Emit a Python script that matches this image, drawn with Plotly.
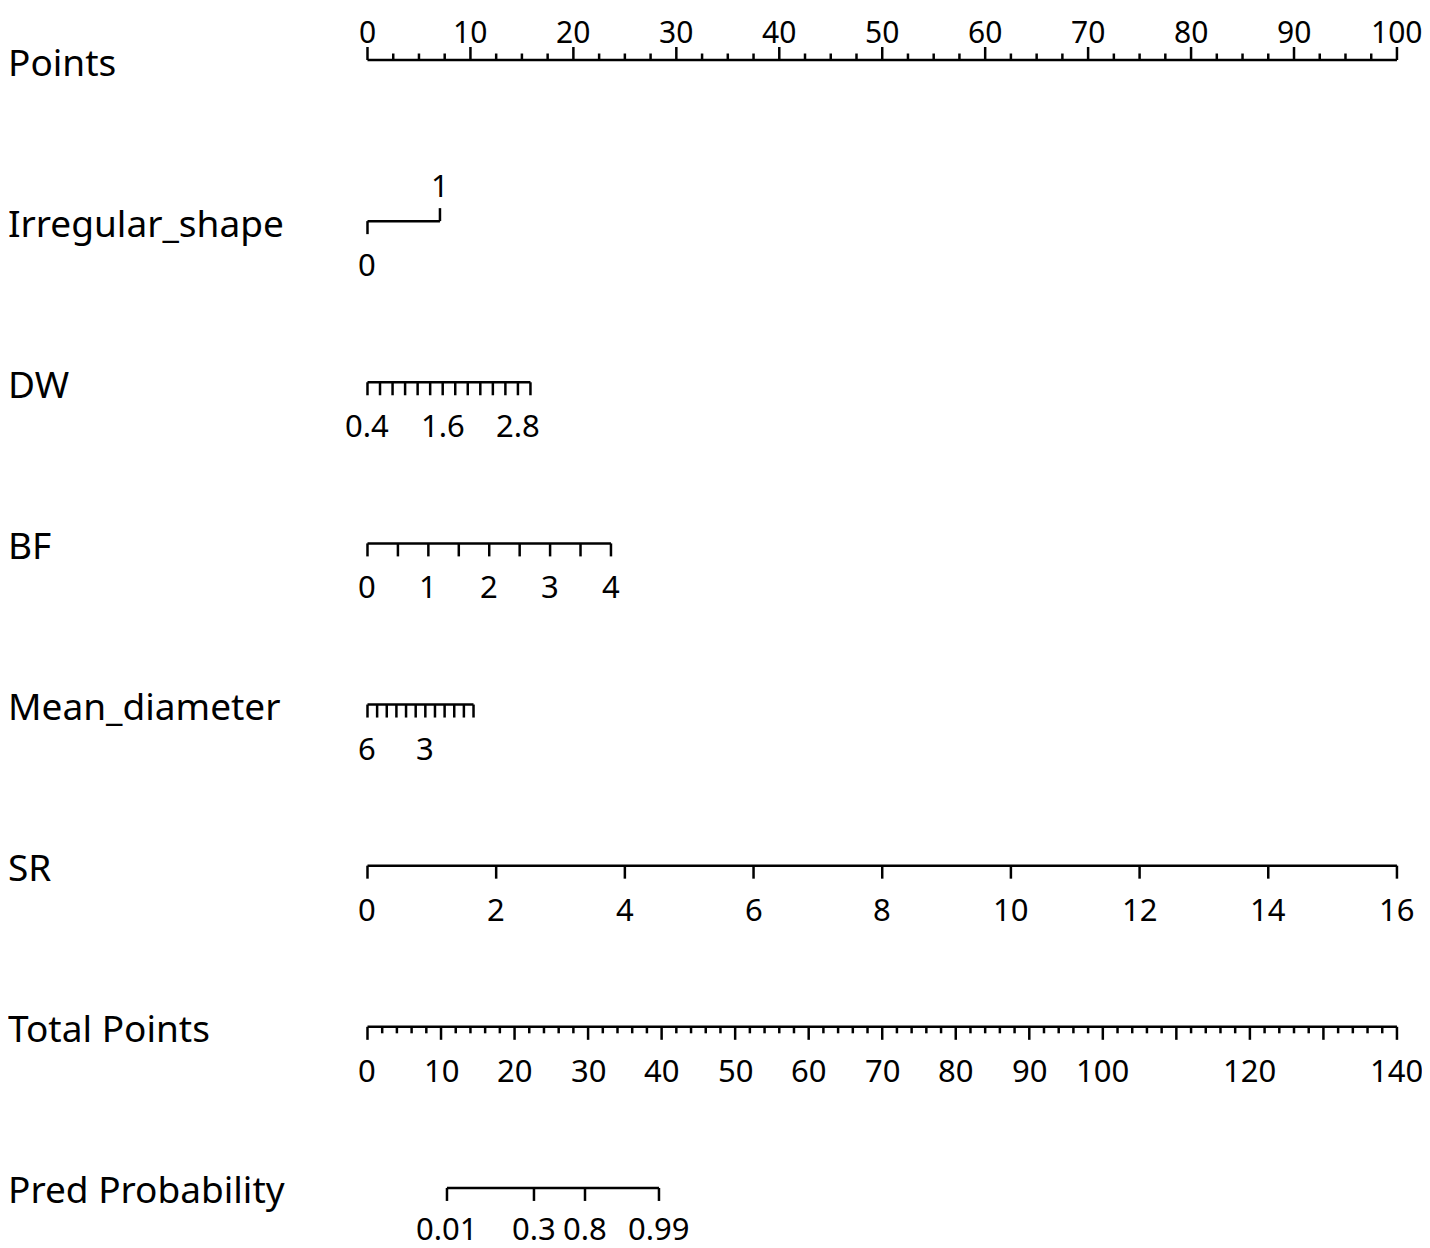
import plotly.graph_objects as go

# nomograma: cada linha é uma variável, eixo x = pontos (0-100)
linhas = ["Points", "Irregular_shape", "DW", "BF", "Mean_diameter", "SR",
          "Total Points", "Pred Probability"]

# -------- escala de pontos --------
points_labels = [0, 10, 20, 30, 40, 50, 60, 70, 80, 90, 100]
points_minor = [i * 2.5 for i in range(41)]

# -------- Irregular_shape (0/1) --------
irregular_vals = [0, 1]
irregular_pts = [0, 7.04]

# -------- DW --------
dw_ticks = [0.4, 0.6, 0.8, 1.0, 1.2, 1.4, 1.6, 1.8, 2.0, 2.2, 2.4, 2.6, 2.8, 3.0]
dw_labels = [0.4, 1.6, 2.8]
dw_range = [0.4, 3.0]
dw_pts = [0, 15.83]

# -------- BF --------
bf_ticks = [0, 0.5, 1, 1.5, 2, 2.5, 3, 3.5, 4]
bf_labels = [0, 1, 2, 3, 4]
bf_range = [0, 4]
bf_pts = [0, 23.65]

# -------- Mean_diameter (invertido) --------
md_ticks = [6, 5.5, 5, 4.5, 4, 3.5, 3, 2.5, 2, 1.5, 1, 0.5]
md_labels = [6, 3]
md_range = [6, 0.5]
md_pts = [0, 10.3]

# -------- SR --------
sr_ticks = [0, 2, 4, 6, 8, 10, 12, 14, 16]
sr_labels = [0, 2, 4, 6, 8, 10, 12, 14, 16]
sr_range = [0, 16]
sr_pts = [0, 100]

# -------- Total Points --------
total_major = [0, 10, 20, 30, 40, 50, 60, 70, 80, 90, 100, 110, 120, 130, 140]
total_labels = [0, 10, 20, 30, 40, 50, 60, 70, 80, 90, 100, 120, 140]
total_minor = [i * 2 for i in range(71)]
total_max = 140

# -------- Pred Probability --------
pred_labels = ["0.01", "0.3", "0.8", "0.99"]
pred_total = [10.81, 22.64, 29.58, 39.64]

PX = 161.14  # pixels por linha (converte px -> unidade de linha)
TICK = 13 / PX
MINOR = 6.5 / PX
FONTE = "Noto Sans"
X_MIN, X_MAX = -34.92, 103.21
Y_MIN, Y_MAX = -0.3227, 7.3727


def escala(v, faixa, pts):
    return pts[0] + (v - faixa[0]) / (faixa[1] - faixa[0]) * (pts[1] - pts[0])


xs, ys = [], []
anot = []


def seg(x0, y0, x1, y1):
    xs.extend([x0, x1, None])
    ys.extend([y0, y1, None])


def rotulo(x, linha, texto, desloc=-43, tam=31):
    anot.append(dict(x=x, y=linha, text=str(texto), showarrow=False,
                     xanchor="center", yanchor="middle", yshift=desloc,
                     font=dict(family=FONTE, size=tam, color="black")))


# Points
r = 0
seg(0, r, 100, r)
for v in points_minor:
    seg(v, r, v, r - (TICK if v in points_labels else MINOR))
for v in points_labels:
    # um pouco mais baixo para o texto não sair da borda de cima
    rotulo(v, r, v, desloc=29, tam=30)

# Irregular_shape
r = 1
seg(irregular_pts[0], r, irregular_pts[1], r)
seg(irregular_pts[0], r, irregular_pts[0], r + TICK)
seg(irregular_pts[1], r, irregular_pts[1], r - TICK)
rotulo(irregular_pts[0], r, irregular_vals[0])
rotulo(irregular_pts[1], r, irregular_vals[1], desloc=36)


def linha_var(r, ticks, labels, faixa, pts):
    seg(escala(ticks[0], faixa, pts), r, escala(ticks[-1], faixa, pts), r)
    for v in ticks:
        x = escala(v, faixa, pts)
        seg(x, r, x, r + TICK)
    for v in labels:
        rotulo(escala(v, faixa, pts), r, v)


linha_var(2, dw_ticks, dw_labels, dw_range, dw_pts)
linha_var(3, bf_ticks, bf_labels, bf_range, bf_pts)
linha_var(4, md_ticks, md_labels, md_range, md_pts)
linha_var(5, sr_ticks, sr_labels, sr_range, sr_pts)

# Total Points
r = 6
seg(0, r, 100, r)
for v in total_minor:
    seg(v * 100 / total_max, r, v * 100 / total_max, r + (TICK if v in total_major else MINOR))
for v in total_labels:
    rotulo(v * 100 / total_max, r, v)

# Pred Probability
r = 7
px = [t * 100 / total_max for t in pred_total]
seg(px[0], r, px[-1], r)
for x, lab in zip(px, pred_labels):
    seg(x, r, x, r + TICK)
    rotulo(x, r, lab, desloc=-40)

# títulos das linhas
for i, nome in enumerate(linhas):
    anot.append(dict(x=X_MIN, y=i, text=nome, showarrow=False,
                     xanchor="left", yanchor="middle", xshift=-2, yshift=-1,
                     font=dict(family=FONTE, size=37, color="black")))

fig = go.Figure()
fig.add_trace(go.Scatter(x=xs, y=ys, mode="lines",
                         line=dict(color="black", width=2.5),
                         hoverinfo="skip", showlegend=False))

# a página tem 8px de margem no body, então a figura fica um pouco menor
fig.update_layout(
    width=1422, height=1240,
    margin=dict(l=0, r=0, t=0, b=0),
    plot_bgcolor="white", paper_bgcolor="white",
    xaxis=dict(range=[X_MIN, X_MAX], visible=False, fixedrange=True),
    yaxis=dict(range=[Y_MAX, Y_MIN], visible=False, fixedrange=True),
    annotations=anot,
    showlegend=False,
)

fig.write_html("out.html")
